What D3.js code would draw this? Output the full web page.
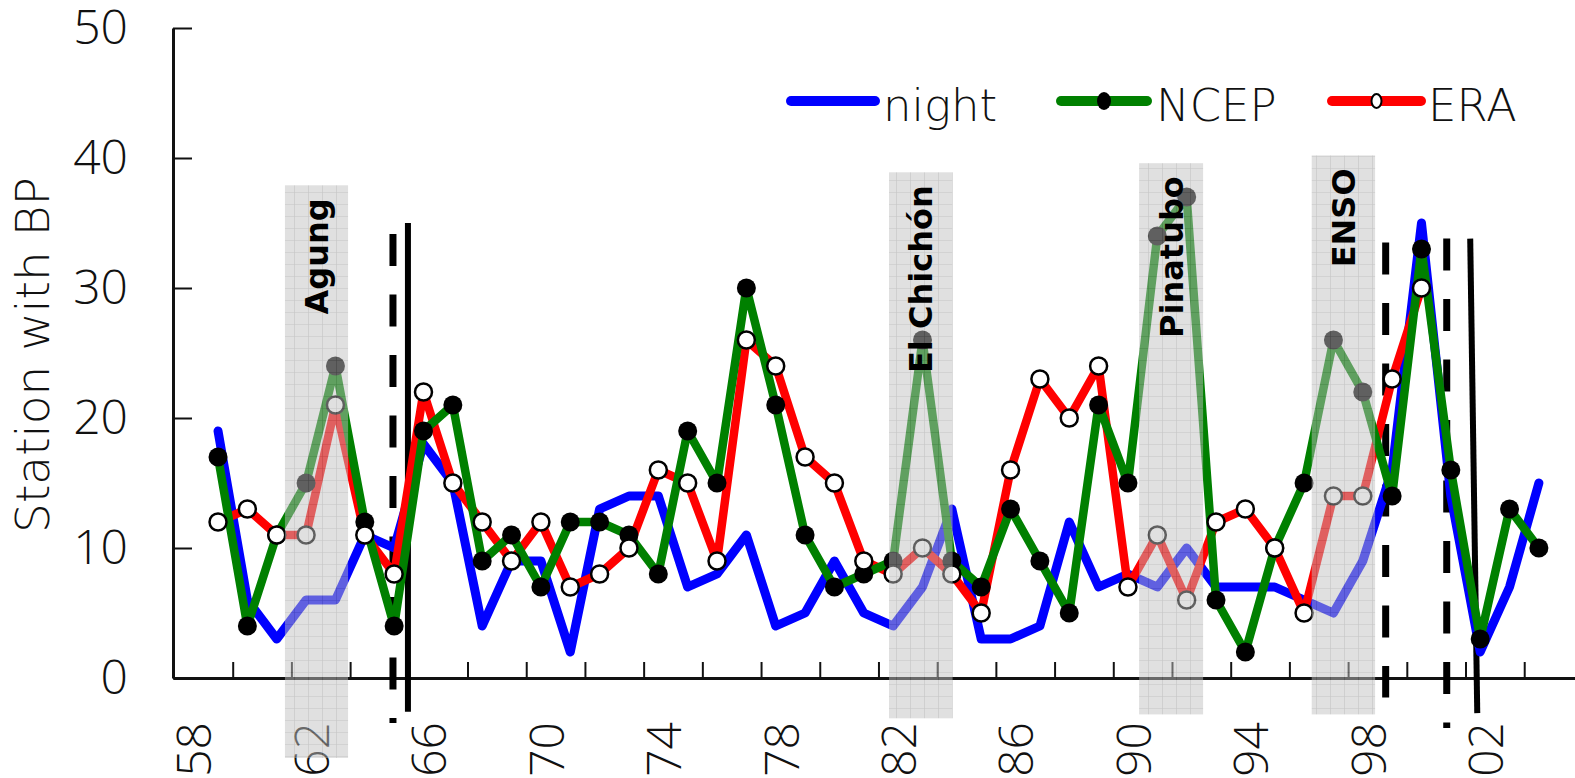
<!DOCTYPE html>
<html>
<head>
<meta charset="utf-8">
<script src="https://cdn.jsdelivr.net/npm/d3@7"></script>
<style>
  html, body { margin: 0; padding: 0; background: #fff; }
  svg { display: block; }
  .tick-label { font-family: "Open Sans", "Liberation Sans", sans-serif; font-weight: 300; font-size: 48px; fill: #111; }
  .legend-label { font-family: "DejaVu Sans", sans-serif; font-weight: 300; font-size: 45px; fill: #111; }
  .band-label { font-family: "DejaVu Sans", sans-serif; font-weight: bold; font-size: 32px; fill: #000; }
</style>
</head>
<body>
<div id="chart"></div>
<script>
// yearly counts, 1959..2004
var years = d3.range(1959, 2005);
var night = [19, 6, 3, 6, 6, 11, 10, 18, 15, 4, 9, 9, 2, 13, 14, 14,
             7, 8, 11, 4, 5, 9, 5, 4, 7, 13, 3, 3, 4, 12, 7, 8,
             7, 10, 7, 7, 7, 6, 5, 9, 16, 35, 14, 2, 7, 15];
var ncep = [17, 4, 11, 15, 24, 12, 4, 19, 21, 9, 11, 7, 12, 12, 11, 8,
            19, 15, 30, 21, 11, 7, 8, 9, 26, 9, 7, 13, 9, 5, 21, 15,
            34, 37, 6, 2, 10, 15, 26, 22, 14, 33, 16, 3, 13, 10];
// ERA stops in 2000
var era = [12, 13, 11, 11, 21, 11, 8, 22, 15, 12, 9, 12, 7, 8, 10, 16,
           15, 9, 26, 24, 17, 15, 9, 8, 10, 8, 5, 16, 23, 20, 24, 7,
           11, 6, 12, 13, 10, 5, 14, 14, 23, 30];

var yTicks = [0, 10, 20, 30, 40, 50];
var xTickYears = d3.range(1959.5, 2004, 2);
var xLabelYears = d3.range(1958, 2003, 4);

// shaded events: name, start year, end year, top, bottom (data units)
var bandNames = ["Agung", "El Chichón", "Pinatubo", "ENSO"];
var bandStart = [1961.28, 1981.86, 1990.38, 1996.26];
var bandEnd   = [1963.43, 1984.03, 1992.56, 1998.42];
var bandTop   = [37.9, 38.9, 39.6, 40.2];
var bandBot   = [-6.15, -3.1, -2.8, -2.8];

// vertical break lines: year at top, year at bottom, top, bottom, dashed?
var breakTopYear = [1964.96, 1965.47, 1998.78, 2000.86, 2001.66];
var breakBotYear = [1964.96, 1965.47, 1998.78, 2000.86, 2001.90];
var breakTop = [34.15, 35.0, 33.5, 33.8, 33.8];
var breakBot = [-3.46, -2.6, -1.5, -3.85, -2.7];
var breakDashed = [true, false, true, true, false];

var W = 1575, H = 778;

var x = d3.scaleLinear().domain([1957.466, 2005.23]).range([173, 1575]);
var y = d3.scaleLinear().domain([0, 50]).range([678, 28]);

var svg = d3.select("#chart").append("svg")
    .attr("width", W)
    .attr("height", H);

var defs = svg.append("defs");
var pat = defs.append("pattern")
    .attr("id", "grid")
    .attr("width", 14)
    .attr("height", 12)
    .attr("patternUnits", "userSpaceOnUse");
pat.append("rect").attr("width", 14).attr("height", 12).attr("fill", "#c0c0c0");
pat.append("path").attr("d", "M14 0 L0 0 L0 12").attr("fill", "none")
    .attr("stroke", "#8a8a8a").attr("stroke-width", 1.2);

// axes
var yAxis = d3.axisLeft(y).tickValues(yTicks).tickSizeInner(-19).tickSizeOuter(0).tickPadding(45);
var gy = svg.append("g").attr("transform", "translate(173,0)").call(yAxis);
gy.select(".domain").attr("stroke", "#111").attr("stroke-width", 3);
gy.selectAll(".tick line").attr("stroke", "#111").attr("stroke-width", 2);
gy.selectAll(".tick text").attr("class", "tick-label").attr("font-family", null).attr("font-size", null);

var xAxis = d3.axisBottom(x).tickValues(xTickYears).tickSizeInner(-16).tickSizeOuter(0).tickFormat("");
var gx = svg.append("g").attr("transform", "translate(0,678)").call(xAxis);
gx.select(".domain").attr("stroke", "#111").attr("stroke-width", 3);
gx.selectAll(".tick line").attr("stroke", "#111").attr("stroke-width", 2);

svg.append("g").selectAll("text")
    .data(xLabelYears)
  .enter().append("text")
    .attr("class", "tick-label")
    .attr("transform", function(d) { return "translate(" + (x(d) + 6) + ",722) rotate(-90)"; })
    .attr("text-anchor", "end")
    .attr("dy", "0.35em")
    .text(function(d) { return String(d).slice(2); });

// y title
svg.append("text")
    .attr("transform", "translate(32,355) rotate(-90)")
    .attr("text-anchor", "middle")
    .attr("dy", "0.36em")
    .style("font-family", "'DejaVu Sans', sans-serif")
    .style("font-weight", 300)
    .style("font-size", "47px")
    .style("fill", "#111")
    .text("Station with BP");

// vertical break lines
svg.append("g").selectAll("line")
    .data(d3.range(breakTop.length))
  .enter().append("line")
    .attr("x1", function(i) { return x(breakTopYear[i]); })
    .attr("x2", function(i) { return x(breakBotYear[i]); })
    .attr("y1", function(i) { return y(breakTop[i]); })
    .attr("y2", function(i) { return y(breakBot[i]); })
    .attr("stroke", "#000")
    .attr("stroke-width", function(i) { return breakDashed[i] ? 7 : 6; })
    .attr("stroke-dasharray", function(i) { return breakDashed[i] ? "32,28.5" : null; });

// series lines
var line = d3.line()
    .x(function(d) { return x(d[0]); })
    .y(function(d) { return y(d[1]); });

function pairs(vals) { return vals.map(function(v, i) { return [years[i], v]; }); }

var nightPts = pairs(night), ncepPts = pairs(ncep), eraPts = pairs(era);

svg.append("path").datum(nightPts)
    .attr("d", line).attr("fill", "none").attr("stroke", "#0000ff")
    .attr("stroke-width", 9).attr("stroke-linejoin", "round").attr("stroke-linecap", "round");
svg.append("path").datum(eraPts)
    .attr("d", line).attr("fill", "none").attr("stroke", "#ff0000")
    .attr("stroke-width", 8.5).attr("stroke-linejoin", "round").attr("stroke-linecap", "round");
svg.append("path").datum(ncepPts)
    .attr("d", line).attr("fill", "none").attr("stroke", "#008000")
    .attr("stroke-width", 8.5).attr("stroke-linejoin", "round").attr("stroke-linecap", "round");

svg.append("g").selectAll("circle")
    .data(ncepPts)
  .enter().append("circle")
    .attr("cx", function(d) { return x(d[0]); })
    .attr("cy", function(d) { return y(d[1]); })
    .attr("r", 9.5)
    .attr("fill", "#000");

svg.append("g").selectAll("circle")
    .data(eraPts)
  .enter().append("circle")
    .attr("cx", function(d) { return x(d[0]); })
    .attr("cy", function(d) { return y(d[1]); })
    .attr("r", 8.5)
    .attr("fill", "#fff")
    .attr("stroke", "#000")
    .attr("stroke-width", 2.5);

// shaded event bands (drawn over data, semi transparent)
var bands = svg.append("g");
bands.selectAll("rect")
    .data(d3.range(bandNames.length))
  .enter().append("rect")
    .attr("x", function(i) { return x(bandStart[i]); })
    .attr("width", function(i) { return x(bandEnd[i]) - x(bandStart[i]); })
    .attr("y", function(i) { return y(bandTop[i]); })
    .attr("height", function(i) { return y(bandBot[i]) - y(bandTop[i]); })
    .attr("fill", "url(#grid)")
    .attr("opacity", 0.5);

bands.selectAll("text")
    .data(d3.range(bandNames.length))
  .enter().append("text")
    .attr("class", "band-label")
    .attr("transform", function(i) {
      return "translate(" + ((x(bandStart[i]) + x(bandEnd[i])) / 2) + "," + (y(bandTop[i]) + 13) + ") rotate(-90)";
    })
    .attr("text-anchor", "end")
    .attr("dy", "0.36em")
    .text(function(i) { return bandNames[i]; });

// legend
var legNames = ["night", "NCEP", "ERA"];
var legColors = ["#0000ff", "#008000", "#ff0000"];
var legX0 = [791, 1061, 1332];
var legX1 = [875, 1147, 1421];
var legTextX = [883, 1156, 1428];
var legY = 101;

var leg = svg.append("g");
legNames.forEach(function(name, i) {
  leg.append("line")
      .attr("x1", legX0[i]).attr("x2", legX1[i])
      .attr("y1", legY).attr("y2", legY)
      .attr("stroke", legColors[i]).attr("stroke-width", 10)
      .attr("stroke-linecap", "round");
  if (i === 1) {
    leg.append("ellipse").attr("cx", (legX0[i] + legX1[i]) / 2).attr("cy", legY)
        .attr("rx", 7).attr("ry", 9).attr("fill", "#000");
  }
  if (i === 2) {
    leg.append("ellipse").attr("cx", (legX0[i] + legX1[i]) / 2).attr("cy", legY)
        .attr("rx", 5).attr("ry", 7).attr("fill", "#fff")
        .attr("stroke", "#000").attr("stroke-width", 2);
  }
  leg.append("text")
      .attr("class", "legend-label")
      .attr("x", legTextX[i])
      .attr("y", legY + 20)
      .text(name);
});
</script>
</body>
</html>
